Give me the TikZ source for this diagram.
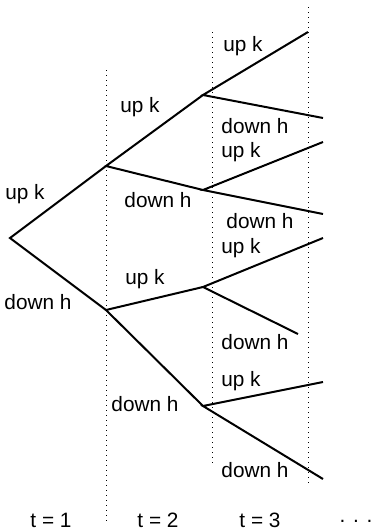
\documentclass[tikz,border=0pt]{standalone}
\usepackage{fontspec}
\setmainfont{Liberation Sans}
\usepackage{tikz}

\begin{document}
\begin{tikzpicture}[x=0.5pt,y=-0.5pt,
        branch/.style={line width=1pt,black},
        period/.style={dotted,line width=0.5pt},
        lab/.style={font=\fontsize{10.4}{12}\selectfont,inner sep=0pt}]
        \useasboundingbox (0,0) rectangle (371,530);
        % nodes of the tree
        \coordinate (r) at (10,238);
        \coordinate (a) at (106,166);
        \coordinate (b) at (106,310);
        \coordinate (aa) at (203,95);
        \coordinate (ab) at (203,190);
        \coordinate (ba) at (203,287);
        \coordinate (bb) at (203,406);
        \coordinate (aau) at (308,32);
        \coordinate (aad) at (323,118);
        \coordinate (abu) at (323,142);
        \coordinate (abd) at (323,214);
        \coordinate (bau) at (323,238);
        \coordinate (bad) at (298,334);
        \coordinate (bbu) at (323,382);
        \coordinate (bbd) at (323,479);
        % period lines
        \coordinate (p1t) at (106,70);  \coordinate (p1b) at (106,524);
        \coordinate (p2t) at (212,32);  \coordinate (p2b) at (212,463);
        \coordinate (p3t) at (308,7);   \coordinate (p3b) at (308,486);
        \draw[period] (p1t)--(p1b);
        \draw[period] (p2t)--(p2b);
        \draw[period] (p3t)--(p3b);
        % branches
        \draw[branch] (a)--(r)--(b);
        \draw[branch] (aa)--(a)--(ab);
        \draw[branch] (ba)--(b)--(bb);
        \draw[branch] (aau)--(aa)--(aad);
        \draw[branch] (abu)--(ab)--(abd);
        \draw[branch] (bau)--(ba)--(bad);
        \draw[branch] (bbu)--(bb)--(bbd);
        % labels
        \node[lab] (ru) at (25,194) {up k};
        \node[lab] (rd) at (38,302) {down h};
        \node[lab] (au) at (140,107) {up k};
        \node[lab] (ad) at (158,200) {down h};
        \node[lab] (bu) at (145,279) {up k};
        \node[lab] (bd) at (145,404) {down h};
        \node[lab] (aaul) at (243,46) {up k};
        \node[lab] (aadl) at (255,126) {down h};
        \node[lab] (abul) at (241,152) {up k};
        \node[lab] (abdl) at (260,221) {down h};
        \node[lab] (baul) at (241,248) {up k};
        \node[lab] (badl) at (255,342) {down h};
        \node[lab] (bbul) at (241,381) {up k};
        \node[lab] (bbdl) at (255,470) {down h};
        \node[lab] (t1) at (51,520) {t = 1};
        \node[lab] (t2) at (158,520) {t = 2};
        \node[lab] (t3) at (260,520) {t = 3};
        \node[lab] (t4) at (356,521) {. . .};
\end{tikzpicture}
\end{document}
